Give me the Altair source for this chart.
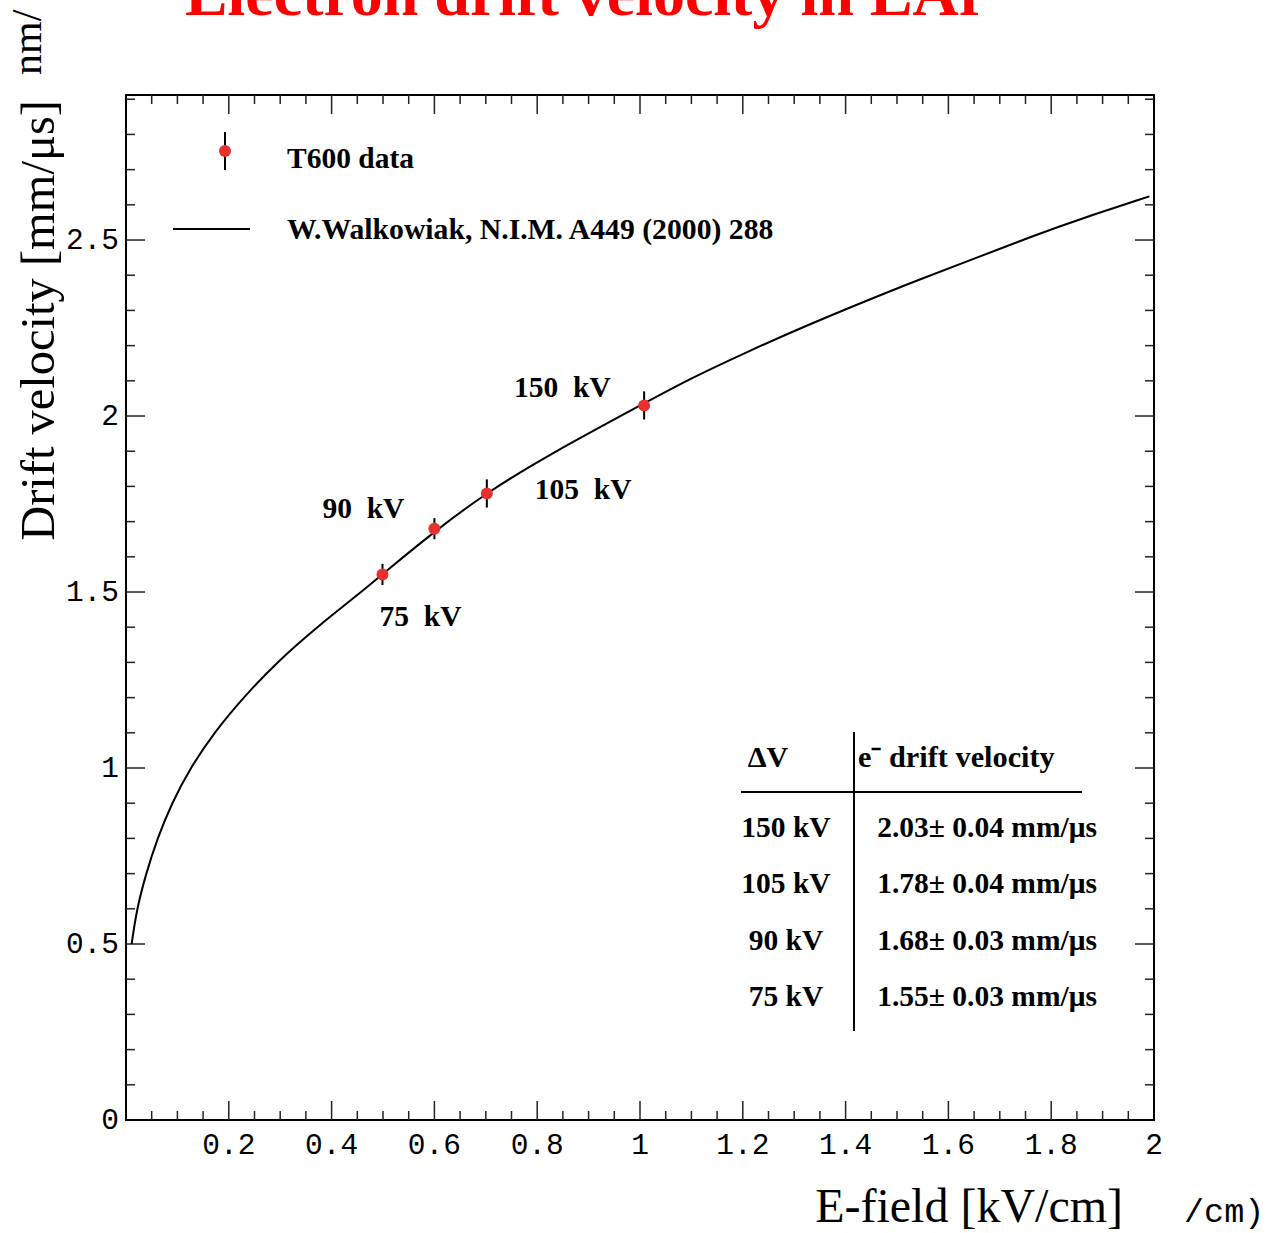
import altair as alt
import numpy as np
import pandas as pd

# ---------------- data ----------------
voltage_kv = [75, 90, 105, 150]
efield = [0.499, 0.600, 0.702, 1.008]
velocity = [1.55, 1.68, 1.78, 2.03]
velocity_err = [0.03, 0.03, 0.04, 0.04]

curve_e = [0.011, 0.021, 0.039, 0.061, 0.089, 0.125, 0.171, 0.228, 0.293, 0.371,
           0.458, 0.50, 0.60, 0.70, 0.825, 1.008, 1.097, 1.214, 1.324, 1.428,
           1.538, 1.649, 1.759, 1.869, 1.991]
curve_v = [0.50, 0.60, 0.70, 0.80, 0.90, 1.00, 1.10, 1.20, 1.30, 1.40,
           1.50, 1.552, 1.672, 1.781, 1.892, 2.036, 2.106, 2.186, 2.257, 2.320,
           2.385, 2.446, 2.509, 2.566, 2.624]

x_tick_labels = [0.2, 0.4, 0.6, 0.8, 1.0, 1.2, 1.4, 1.6, 1.8, 2.0]
y_tick_labels = [0, 0.5, 1, 1.5, 2, 2.5]
x_domain = [0, 2]
y_domain = [0, 2.912]

x_title = "E-field [kV/cm]"
y_title = "Drift velocity [mm/\u03bcs]"
table_header = ["\u0394V", "e\u207b drift velocity"]
legend_labels = ["T600 data", "W.Walkowiak, N.I.M. A449 (2000) 288"]

# ---------------- layout ----------------
W, H = 1028, 1025
PAD = {"left": 126, "top": 95, "right": 118, "bottom": 113}
SERIF = "Liberation Serif"
MONO = "Liberation Mono"
RED = "#e8302f"

pts = pd.DataFrame({"kv": voltage_kv, "E": efield, "v": velocity, "err": velocity_err})
pts["lo"] = pts["v"] - pts["err"]
pts["hi"] = pts["v"] + pts["err"]
pts["row"] = len(pts) - 1 - np.arange(len(pts))
pts["lab"] = [f"{k} kV" for k in voltage_kv]
pts["val"] = [f"{v:.2f}\u00b1 {e:.2f} mm/\u03bcs" for v, e in zip(velocity, velocity_err)]
pts["ann"] = [f"{k}\u00a0\u00a0kV" for k in voltage_kv]

curve = pd.DataFrame({"E": curve_e, "v": curve_v})
xlab = pd.DataFrame({"t": x_tick_labels, "s": [f"{t:g}" for t in x_tick_labels]})
ylab = pd.DataFrame({"t": y_tick_labels, "s": [f"{t:g}" for t in y_tick_labels]})

xs = alt.Scale(domain=x_domain, nice=False, zero=False)
ys = alt.Scale(domain=y_domain, nice=False, zero=False)

def X(f):
    return alt.X(f, type="quantitative", scale=xs, axis=None)

def Y(f):
    return alt.Y(f, type="quantitative", scale=ys, axis=None)

one = pd.DataFrame({"a": [0]})

# ---------------- ticks (inward, ROOT style) ----------------
x_all = np.round(np.arange(0.05, 2.0, 0.05), 3)
x_major = [t for t in x_all if abs(t / 0.2 - round(t / 0.2)) < 1e-6]
x_minor = [t for t in x_all if t not in x_major]
y_all = np.round(np.arange(0.1, 2.91, 0.1), 3)
y_major = [t for t in y_all if abs(t / 0.5 - round(t / 0.5)) < 1e-6]
y_minor = [t for t in y_all if t not in y_major]

def xticks(vals, length):
    d = pd.DataFrame({"t": vals})
    base = alt.Chart(d).mark_rule(color="#222", strokeWidth=1.5)
    bot = base.encode(x=X("t"), y=alt.value(H), y2=alt.value(H - length))
    top = base.encode(x=X("t"), y=alt.value(0), y2=alt.value(length))
    return [bot, top]

def yticks(vals, length):
    d = pd.DataFrame({"t": vals})
    base = alt.Chart(d).mark_rule(color="#222", strokeWidth=1.5)
    lef = base.encode(y=Y("t"), x=alt.value(0), x2=alt.value(length))
    rig = base.encode(y=Y("t"), x=alt.value(W), x2=alt.value(W - length))
    return [lef, rig]

tick_layers = xticks(x_major, 19) + xticks(x_minor, 9) + yticks(y_major, 19) + yticks(y_minor, 9)

# tick labels and axis titles
xlabels = alt.Chart(xlab).mark_text(font=MONO, fontSize=29.5, color="black",
                                     align="center", baseline="top").encode(
    x=X("t"), y=alt.value(H + 11), text="s:N")
ylabels = alt.Chart(ylab).mark_text(font=MONO, fontSize=29.5, color="black",
                                     align="right", baseline="middle").encode(
    y=Y("t"), x=alt.value(-7), text="s:N")
xtitle = alt.Chart(one).mark_text(font=SERIF, fontSize=48, color="black",
                                   align="right", baseline="alphabetic", text=x_title).encode(
    x=alt.value(997), y=alt.value(H + 102))
ytitle = alt.Chart(one).mark_text(font=SERIF, fontSize=48.5, color="black", angle=270,
                                   align="right", baseline="alphabetic", text=y_title).encode(
    x=alt.value(-72), y=alt.value(5))

# ---------------- main marks ----------------
line = alt.Chart(curve).mark_line(color="black", strokeWidth=2, interpolate="basis").encode(
    x=X("E"), y=Y("v"))
errbars = alt.Chart(pts).mark_rule(color="black", strokeWidth=2).encode(
    x=X("E"), y=Y("lo"), y2="hi:Q")
points = alt.Chart(pts).mark_circle(size=145, color=RED, opacity=1).encode(
    x=X("E"), y=Y("v"))

ann_offsets = {75: (-3, 43), 90: (-112, -20), 105: (48, -3), 150: (-130, -17)}
ann_layers = []
for kv, (dx, dy) in ann_offsets.items():
    ann_layers.append(
        alt.Chart(pts).transform_filter(alt.datum.kv == kv).mark_text(
            font=SERIF, fontSize=29.5, fontWeight="bold", color="black",
            align="left", baseline="middle", dx=dx, dy=dy,
        ).encode(x=X("E"), y=Y("v"), text="ann:N")
    )

# ---------------- legend ----------------
leg_pt = alt.Chart(one).mark_circle(size=145, color=RED, opacity=1).encode(
    x=alt.value(99), y=alt.value(56))
leg_bar = alt.Chart(one).mark_rule(color="black", strokeWidth=2).encode(
    x=alt.value(99), y=alt.value(37), y2=alt.value(75))
leg_line = alt.Chart(one).mark_rule(color="black", strokeWidth=2).encode(
    x=alt.value(47), x2=alt.value(124), y=alt.value(134))
leg_txt1 = alt.Chart(one).mark_text(font=SERIF, fontSize=29.5, fontWeight="bold", color="black",
                                     align="left", baseline="middle", text=legend_labels[0]).encode(
    x=alt.value(161), y=alt.value(64))
leg_txt2 = alt.Chart(one).mark_text(font=SERIF, fontSize=29.7, fontWeight="bold", color="black",
                                     align="left", baseline="middle", text=legend_labels[1]).encode(
    x=alt.value(161), y=alt.value(135))

# ---------------- inset table ----------------
tab_vline = alt.Chart(one).mark_rule(color="black", strokeWidth=2).encode(
    x=alt.value(728), y=alt.value(637), y2=alt.value(936))
tab_hline = alt.Chart(one).mark_rule(color="black", strokeWidth=2).encode(
    x=alt.value(615), x2=alt.value(956), y=alt.value(697))
tab_h1 = alt.Chart(one).mark_text(font=SERIF, fontSize=30, fontWeight="bold", color="black",
                                   align="center", baseline="middle", text=table_header[0]).encode(
    x=alt.value(642), y=alt.value(663))
tab_h2 = alt.Chart(one).mark_text(font=SERIF, fontSize=30.3, fontWeight="bold", color="black",
                                   align="left", baseline="middle", text=table_header[1]).encode(
    x=alt.value(732), y=alt.value(663))
tab_c1 = alt.Chart(pts).transform_calculate(py="733 + datum.row * 56.3").mark_text(
    font=SERIF, fontSize=29.5, fontWeight="bold", color="black", align="center", baseline="middle"
).encode(x=alt.value(660), y=alt.Y("py:Q", scale=None, axis=None), text="lab:N")
tab_c2 = alt.Chart(pts).transform_calculate(py="733 + datum.row * 56.3").mark_text(
    font=SERIF, fontSize=29.5, fontWeight="bold", color="black", align="center", baseline="middle"
).encode(x=alt.value(861), y=alt.Y("py:Q", scale=None, axis=None), text="val:N")

# ---------------- clipped remnants at the page edges ----------------
title_txt = alt.Chart(one).mark_text(font=SERIF, fontSize=64, fontWeight="bold", color="#ff0000",
                                      align="center", baseline="alphabetic",
                                      text="Electron drift velocity in LAr").encode(
    x=alt.value(460), y=alt.value(-80))
rem1 = alt.Chart(one).mark_text(font=SERIF, fontSize=42, color="black", angle=270,
                                 align="left", baseline="alphabetic", text="nm/").encode(
    x=alt.value(-85), y=alt.value(-20))
rem2 = alt.Chart(one).mark_text(font=MONO, fontSize=33.5, color="black",
                                 align="left", baseline="alphabetic", text="/cm)").encode(
    x=alt.value(1058), y=alt.value(1127))

chart = alt.layer(
    *tick_layers, line, errbars, points, *ann_layers,
    xlabels, ylabels, xtitle, ytitle,
    leg_bar, leg_pt, leg_line, leg_txt1, leg_txt2,
    tab_vline, tab_hline, tab_h1, tab_h2, tab_c1, tab_c2,
    title_txt, rem1, rem2,
).properties(
    width=W, height=H,
    autosize=alt.AutoSizeParams(type="none"),
    padding=PAD,
    background="white",
).configure_view(stroke="black", strokeWidth=2)

chart.save("out.html", embed_options={"renderer": "svg", "actions": False})
